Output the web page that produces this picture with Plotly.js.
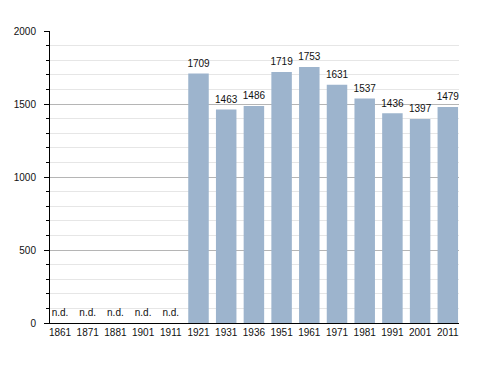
<!DOCTYPE html>
<html><head><meta charset="utf-8">
<script src="https://cdn.plot.ly/plotly-3.0.1.min.js"></script>
<style>html,body{margin:0;padding:0;background:#fff}#chart{width:488px;height:373px}</style>
</head><body><div id="chart"></div>
<script>
const years = ["1861","1871","1881","1901","1911","1921","1931","1936","1951","1961","1971","1981","1991","2001","2011"];
const population = [null,null,null,null,null,1709,1463,1486,1719,1753,1631,1537,1436,1397,1479];
const yTicks = [0,500,1000,1500,2000];

const barYears = years.filter((y,i)=>population[i]!==null);
const barVals = population.filter(v=>v!==null);
const ndYears = years.filter((y,i)=>population[i]===null);

const font = {family:"Liberation Sans, Arial, sans-serif", size:10, color:"#111"};
const hiddenMarker = {size:5, opacity:0};

const traces = [
  {type:"bar", x:barYears, y:barVals, marker:{color:"#9db4cd", line:{width:0}}, hoverinfo:"none"},
  {type:"scatter", mode:"markers+text", x:barYears, y:barVals, text:barVals.map(String), marker:hiddenMarker,
   textposition:"top center", textfont:font, cliponaxis:false, hoverinfo:"none"},
  {type:"scatter", mode:"markers+text", x:ndYears, y:ndYears.map(()=>0), text:ndYears.map(()=>"n.d."), marker:hiddenMarker,
   textposition:"top center", textfont:font, cliponaxis:false, hoverinfo:"none"}
];

const layout = {
  width:488, height:373,
  margin:{l:50, r:29, t:31, b:50},
  paper_bgcolor:"#fff", plot_bgcolor:"#fff",
  showlegend:false, bargap:0.26,
  font:font,
  xaxis:{type:"category", categoryorder:"array", categoryarray:years, range:[-0.361,14.404],
    showline:true, linecolor:"#000", linewidth:1, ticks:"", showgrid:false,
    tickfont:font, fixedrange:true},
  yaxis:{range:[0,2000], tickvals:yTicks, ticktext:yTicks.map(String),
    showline:true, linecolor:"#000", linewidth:1, ticks:"outside", ticklen:5, tickcolor:"#000",
    showgrid:true, gridcolor:"#b5b5b5", gridwidth:1, zeroline:false,
    ticklabelstandoff:6, tickfont:font,
    minor:{dtick:100, tick0:0, showgrid:true, gridcolor:"#e6e6e6", ticks:"outside", ticklen:3, tickcolor:"#000"},
    fixedrange:true}
};
Plotly.newPlot("chart", traces, layout, {staticPlot:true});
</script></body></html>
